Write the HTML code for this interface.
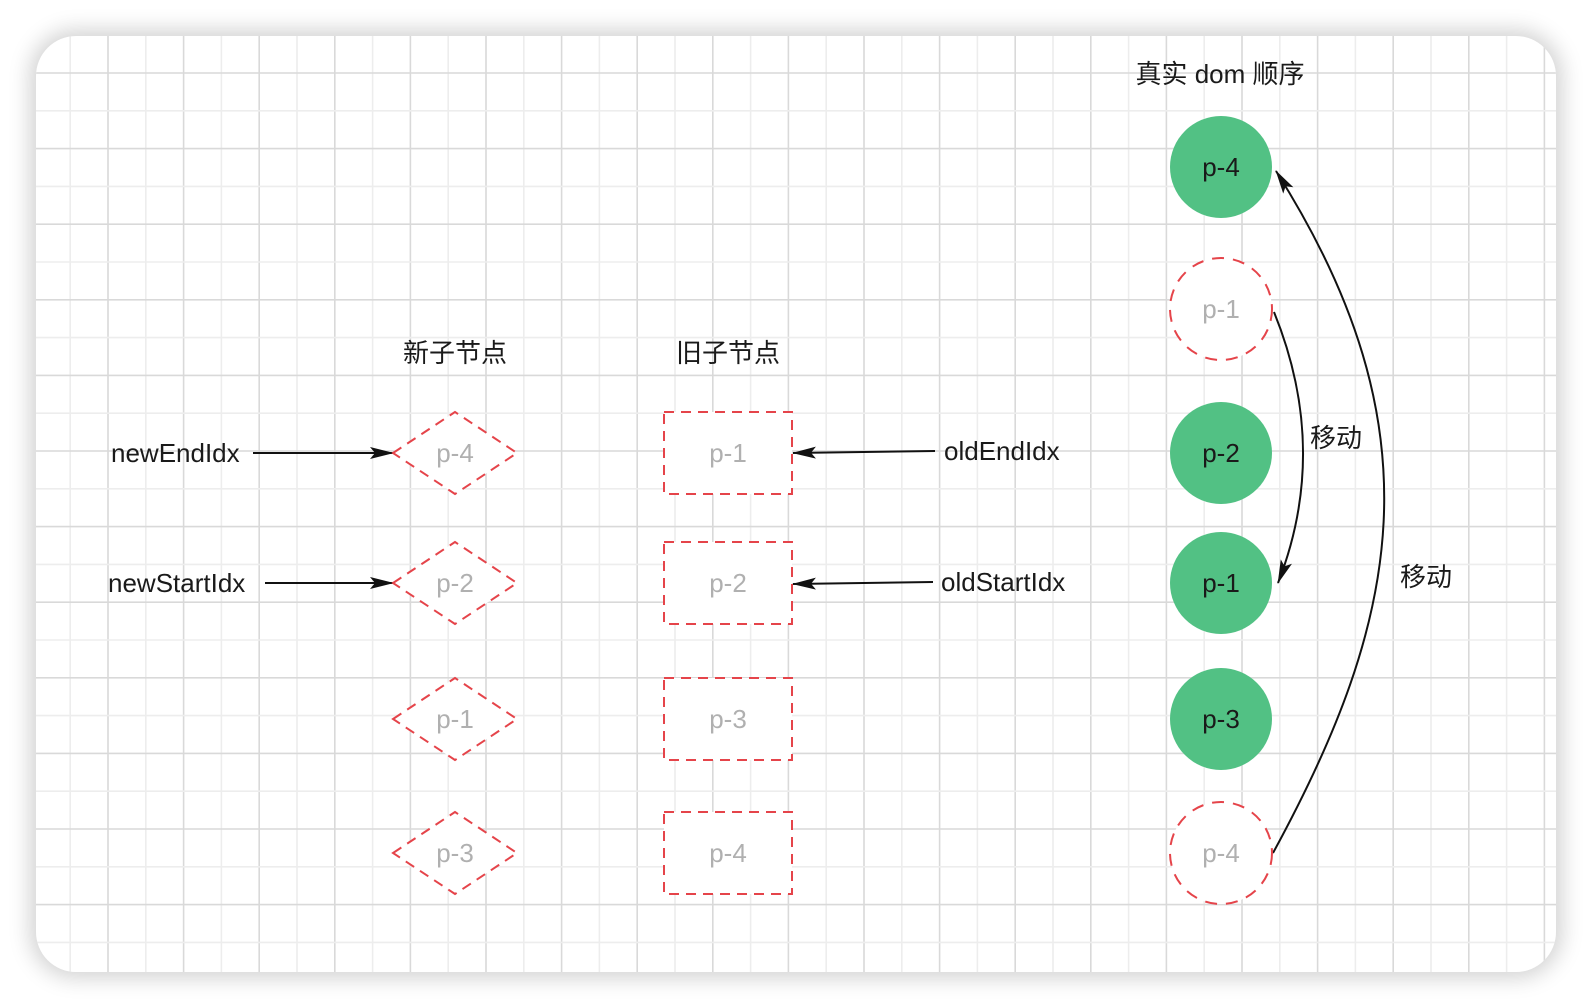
<!DOCTYPE html>
<html><head><meta charset="utf-8"><style>
html,body{margin:0;padding:0;background:#fff;width:1592px;height:1008px;overflow:hidden;}
body{position:relative;font-family:"Liberation Sans","Noto Sans CJK SC",sans-serif;}
#card{position:absolute;left:36px;top:36px;width:1520px;height:936px;border-radius:40px;background:#fff;box-shadow:0 0 22px 6px rgba(0,0,0,0.18);overflow:hidden;}
svg{position:absolute;left:0;top:0;}
</style></head><body>
<div id="card"></div>
<svg width="1592" height="1008">
<defs>
<clipPath id="cc"><rect x="36" y="36" width="1520" height="936" rx="40"/></clipPath>
<marker id="ah" markerWidth="24" markerHeight="12" refX="23" refY="6" orient="auto" markerUnits="userSpaceOnUse"><path d="M0,0 L24,6 L0,12 L5,6 Z" fill="#111"/></marker>
</defs>
<g id="grid" clip-path="url(#cc)"></g>
<g font-size="26" fill="#1a1a1a">
<text x="455" y="362" text-anchor="middle">新子节点</text>
<text x="728" y="362" text-anchor="middle">旧子节点</text>
<text x="1220" y="83" text-anchor="middle">真实 dom 顺序</text>
<text x="111" y="462">newEndIdx</text>
<text x="108" y="592">newStartIdx</text>
<text x="944" y="460">oldEndIdx</text>
<text x="941" y="591">oldStartIdx</text>
<text x="1310" y="447">移动</text>
<text x="1400" y="586">移动</text>
</g>
<g stroke="#111" stroke-width="2" fill="none">
<line x1="253" y1="453" x2="393" y2="453" marker-end="url(#ah)"/>
<line x1="265" y1="583" x2="393" y2="583" marker-end="url(#ah)"/>
<line x1="935" y1="451" x2="793" y2="453" marker-end="url(#ah)"/>
<line x1="933" y1="582" x2="793" y2="584" marker-end="url(#ah)"/>
<path d="M1274 312 Q1330 450 1278 583" marker-end="url(#ah)"/>
<path d="M1273 853 C1400 620 1440 430 1276 171" marker-end="url(#ah)"/>
</g>
<g id="nodes"></g>
</svg>
<script>
const ns='http://www.w3.org/2000/svg';
const grid=document.getElementById('grid');
const s=37.8;
for(let k=-2;k<45;k++){
  const x=108+k*s;
  const l=document.createElementNS(ns,'line');
  l.setAttribute('x1',x);l.setAttribute('x2',x);l.setAttribute('y1',36);l.setAttribute('y2',972);
  l.setAttribute('stroke',k%2===0?'#d9d9d9':'#ededed');l.setAttribute('stroke-width','1.6');
  
  
  grid.appendChild(l);
}
for(let k=-2;k<30;k++){
  const y=73+k*s;
  const l=document.createElementNS(ns,'line');
  l.setAttribute('y1',y);l.setAttribute('y2',y);l.setAttribute('x1',36);l.setAttribute('x2',1556);
  l.setAttribute('stroke',(k%2+2)%2===0?'#d9d9d9':'#ededed');l.setAttribute('stroke-width','1.6');
  
  
  grid.appendChild(l);
}
const newLabels=['p-4','p-2','p-1','p-3'];
const oldLabels=['p-1','p-2','p-3','p-4'];
const domLabels=['p-4','p-1','p-2','p-1','p-3','p-4'];
const domReal=[true,false,true,true,true,false];
const rowY=[453,583,719,853];
const domY=[167,309,453,583,719,853];
const g=document.getElementById('nodes');
function txt(x,y,t,c){const e=document.createElementNS(ns,'text');e.setAttribute('x',x);e.setAttribute('y',y+9);e.setAttribute('text-anchor','middle');e.setAttribute('font-size','26');e.setAttribute('fill',c);e.textContent=t;
  
  
  g.appendChild(e);}
newLabels.forEach((t,i)=>{const y=rowY[i];const p=document.createElementNS(ns,'polygon');
  p.setAttribute('points',`393,${y} 455,${y-41} 517,${y} 455,${y+41}`);
  p.setAttribute('fill','#fff');p.setAttribute('stroke','#e5444a');p.setAttribute('stroke-width','2');p.setAttribute('stroke-dasharray','10 7');
  
  
  g.appendChild(p);txt(455,y,t,'#b0b0b0');});
oldLabels.forEach((t,i)=>{const y=rowY[i];const r=document.createElementNS(ns,'rect');
  r.setAttribute('x',664);r.setAttribute('y',y-41);r.setAttribute('width',128);r.setAttribute('height',82);
  r.setAttribute('fill','#fff');r.setAttribute('stroke','#e5444a');r.setAttribute('stroke-width','2');r.setAttribute('stroke-dasharray','10 7');
  
  
  g.appendChild(r);txt(728,y,t,'#b0b0b0');});
domLabels.forEach((t,i)=>{const y=domY[i];const c=document.createElementNS(ns,'circle');
  c.setAttribute('cx',1221);c.setAttribute('cy',y);c.setAttribute('r',51);
  if(domReal[i]){c.setAttribute('fill','#52c184');}else{c.setAttribute('fill','#fff');c.setAttribute('stroke','#e5444a');c.setAttribute('stroke-width','2');c.setAttribute('stroke-dasharray','12 9');}
  
  
  g.appendChild(c);txt(1221,y,t,domReal[i]?'#1a1a1a':'#b0b0b0');});
</script>
</body></html>
